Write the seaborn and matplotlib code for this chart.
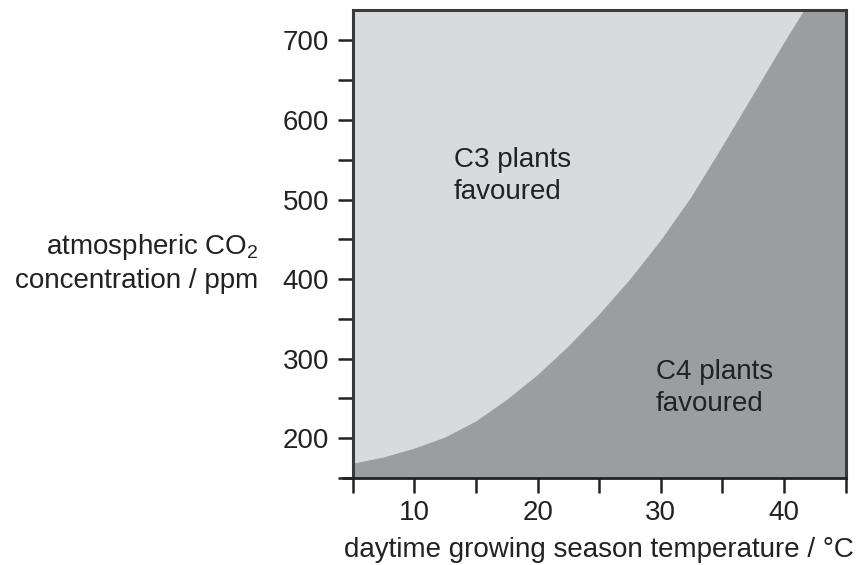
import matplotlib
matplotlib.use("Agg")
import matplotlib.pyplot as plt
from matplotlib.ticker import MultipleLocator
import pandas as pd
import seaborn as sns

# Boundary between C3- and C4-favoured conditions
temperature = [5, 7.5, 10, 12.5, 15, 17.5, 20, 22.5, 25, 27.5, 30, 32.5, 35, 37.5, 40, 42.5]
co2_boundary = [167, 175, 186, 200, 220, 247, 278, 314, 354, 398, 447, 502, 565, 630, 695, 758]

x_ticks = [10, 20, 30, 40]
y_ticks = [200, 300, 400, 500, 600, 700]
region_labels = ["C3 plants\nfavoured", "C4 plants\nfavoured"]

sns.set_theme(style="white")
plt.rcParams["font.family"] = ["Liberation Sans", "DejaVu Sans"]
plt.rcParams["mathtext.fontset"] = "custom"
plt.rcParams["mathtext.rm"] = "Liberation Sans"
plt.rcParams["mathtext.it"] = "Liberation Sans"

light = "#d9dadc"
dark = "#9c9d9f"
ink = "#222222"
fs = 20

df = pd.DataFrame({"temperature": temperature, "co2": co2_boundary})

fig = plt.figure(figsize=(8.56, 5.65), dpi=100)
ax = fig.add_axes([0.412, 0.154, 0.576, 0.828])

xmin, xmax, ymin, ymax = 5, 45, 150, 738
# C4 region is the background; the C3 region sits above the boundary curve
ax.set_facecolor(dark)
ax.fill_between(df["temperature"], df["co2"], 2000, color=light, linewidth=0, zorder=1)
sns.lineplot(data=df, x="temperature", y="co2", ax=ax, color=dark, linewidth=0.8, zorder=2)

ax.set_xlim(xmin, xmax)
ax.set_ylim(ymin, ymax)

ax.set_xticks(x_ticks)
ax.set_yticks(y_ticks)
ax.xaxis.set_minor_locator(MultipleLocator(5))
ax.yaxis.set_minor_locator(MultipleLocator(50))
ax.tick_params(axis="both", which="both", direction="out", length=11, width=1.8,
               color=ink, labelsize=fs, labelcolor=ink, bottom=True, left=True)
ax.tick_params(axis="x", pad=5)
ax.tick_params(axis="y", pad=6)

for side in ["left", "top", "right"]:
    ax.spines[side].set_color("#3a3a3a")
    ax.spines[side].set_linewidth(2.2)
ax.spines["bottom"].set_color(ink)
ax.spines["bottom"].set_linewidth(2.0)
# bottom axis line runs a little past the left edge
ax.plot([-0.021, 0], [0, 0], transform=ax.transAxes, color=ink, linewidth=2.0,
        clip_on=False, solid_capstyle="butt")

ax.set_xlabel("daytime growing season temperature / °C", fontsize=fs, color=ink, labelpad=8)
ax.set_ylabel("")
fig.text(0.302, 0.535, "atmospheric CO$_2$\nconcentration / ppm", fontsize=fs, color=ink,
         ha="right", va="center", linespacing=1.3)

ax.text(13.2, 530, region_labels[0], fontsize=fs, color=ink, ha="left", va="center",
        linespacing=1.3, zorder=3)
ax.text(29.6, 263, region_labels[1], fontsize=fs, color=ink, ha="left", va="center",
        linespacing=1.3, zorder=3)

fig.savefig("out.png", dpi=100, facecolor="white")
